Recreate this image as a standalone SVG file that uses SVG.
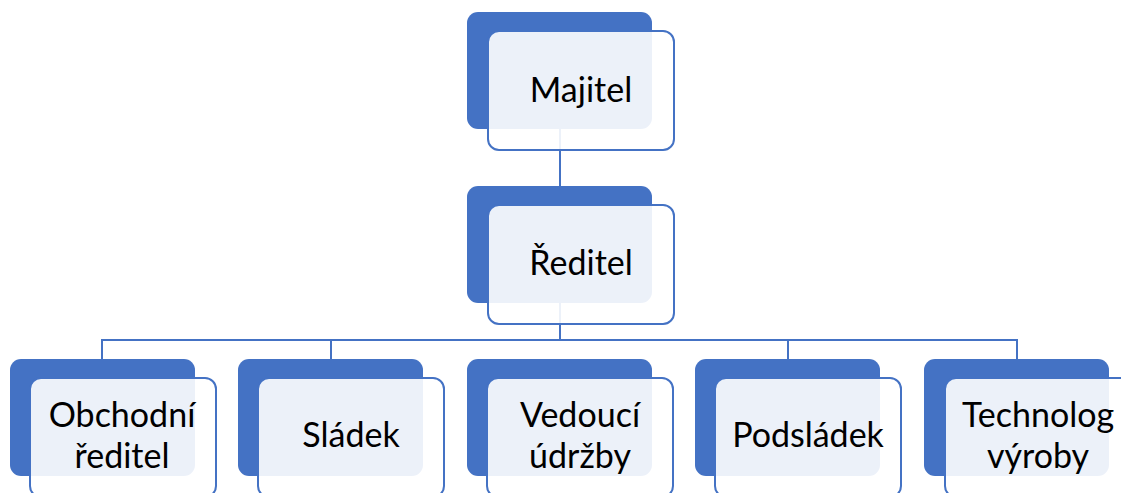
<svg xmlns="http://www.w3.org/2000/svg" width="1121" height="493" viewBox="0 0 1121 493">
<style>
.back{fill:#4472C4;}
.front{fill:#FFFFFF;fill-opacity:0.9;stroke:#4472C4;stroke-width:2;}
.lbl{font-family:Lato,"Liberation Sans",sans-serif;font-size:34px;fill:#000000;text-anchor:middle;}
.conn{stroke:#4472C4;stroke-width:2;fill:none;}
</style>
<rect width="1121" height="493" fill="#FFFFFF"/>
<g id="connectors">
<path class="conn" d="M560,128 V186"/>
<path class="conn" d="M560,302 V340"/>
<path class="conn" d="M102,359 V340 H1017 V359"/>
<path class="conn" d="M331,340 V359"/>
<path class="conn" d="M788,340 V359"/>
</g>
<g id="majitel">
<rect class="back" x="467" y="12" width="185" height="117" rx="11"/>
<rect class="front" x="488" y="31" width="186" height="119" rx="11"/>
<text class="lbl" x="581" y="102">Majitel</text>
</g>
<g id="reditel">
<rect class="back" x="467" y="186" width="185" height="117" rx="11"/>
<rect class="front" x="488" y="205" width="186" height="119" rx="11"/>
<text class="lbl" x="581" y="275">Ředitel</text>
</g>
<g id="obchodni">
<rect class="back" x="10" y="359" width="185" height="117" rx="11"/>
<rect class="front" x="30" y="378" width="186" height="119" rx="11"/>
<text class="lbl" x="122" y="427">Obchodní</text>
<text class="lbl" x="122" y="468">ředitel</text>
</g>
<g id="sladek">
<rect class="back" x="238" y="359" width="185" height="117" rx="11"/>
<rect class="front" x="258" y="378" width="186" height="119" rx="11"/>
<text class="lbl" x="351" y="447">Sládek</text>
</g>
<g id="vedouci">
<rect class="back" x="467" y="359" width="185" height="117" rx="11"/>
<rect class="front" x="487" y="378" width="186" height="119" rx="11"/>
<text class="lbl" x="580" y="427">Vedoucí</text>
<text class="lbl" x="580" y="468">údržby</text>
</g>
<g id="podsladek">
<rect class="back" x="695" y="359" width="185" height="117" rx="11"/>
<rect class="front" x="715" y="378" width="186" height="119" rx="11"/>
<text class="lbl" x="808" y="447">Podsládek</text>
</g>
<g id="technolog">
<rect class="back" x="924" y="359" width="185" height="117" rx="11"/>
<rect class="front" x="945" y="378" width="186" height="119" rx="11"/>
<text class="lbl" x="1038" y="427">Technolog</text>
<text class="lbl" x="1038" y="468">výroby</text>
</g>
</svg>
